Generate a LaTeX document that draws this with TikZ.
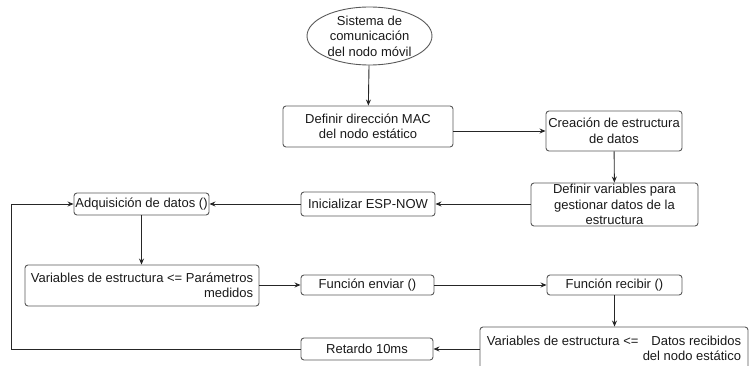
\documentclass[tikz,border=0pt]{standalone}
\usepackage{fontspec}
\setmainfont{Liberation Sans}
\usetikzlibrary{shapes.geometric,arrows.meta}
\begin{document}
\begin{tikzpicture}[x=1pt,y=-1pt,
  every node/.style={font=\fontsize{13}{15.5}\selectfont, text=black!90},
  box/.style={draw=black!65, line width=0.9pt, rounded corners=3pt, inner sep=0pt, align=center},
  flow/.style={draw=black!85, line width=0.9pt, -{Stealth[length=6pt,width=5pt]}}]
\useasboundingbox (0,0) rectangle (749,366);

% start terminal
\node[ellipse, draw=black!65, line width=0.9pt, inner sep=0pt, align=center,
      minimum width=125, minimum height=58] (sis) at (369.5,36)
      {Sistema de\\comunicación\\del nodo móvil};

% setup steps
\node[box, minimum width=170, minimum height=41] (mac) at (368,126.5)
      {Definir dirección MAC\\del nodo estático};
\node[box, minimum width=136, minimum height=40] (cre) at (614,131)
      {Creación de estructura\\de datos};
\node[box, minimum width=167, minimum height=43] (defv) at (614.5,204.5)
      {Definir variables para\\gestionar datos de la\\estructura};
\node[box, minimum width=134, minimum height=24] (ini) at (368,204)
      {Inicializar ESP-NOW};

% main loop
\node[box, minimum width=135, minimum height=22] (adq) at (141.5,204)
      {Adquisición de datos ()};
\node[box, minimum width=234, minimum height=41, align=right] (varp) at (142,285.5)
      {Variables de estructura <= Parámetros\\medidos};
\node[box, minimum width=133, minimum height=20] (env) at (367.5,285)
      {Función enviar ()};
\node[box, minimum width=135, minimum height=20] (rec) at (614.5,285)
      {Función recibir ()};
\node[box, minimum width=268, minimum height=43, align=right] (vard) at (614,348.5)
      {Variables de estructura <=\hspace{13pt}Datos recibidos\\del nodo estático};
\node[box, minimum width=132, minimum height=22] (ret) at (367,349)
      {Retardo 10ms};

\coordinate (loop) at (11,349);

% connectors
\draw[flow] (sis) -- (mac);
\draw[flow] (mac.east |- cre.west) -- (cre.west);
\draw[flow] (cre) -- (defv);
\draw[flow] (defv.west |- ini.east) -- (ini.east);
\draw[flow] (ini) -- (adq);
\draw[flow] (adq) -- (varp.north -| adq.south);
\draw[flow] (varp.east |- env.west) -- (env.west);
\draw[flow] (env) -- (rec);
\draw[flow] (rec) -- (vard.north -| rec.south);
\draw[flow] (vard.west |- ret.east) -- (ret.east);
\draw[flow] (ret.west) -- (loop) |- (adq.west);
\end{tikzpicture}
\end{document}
